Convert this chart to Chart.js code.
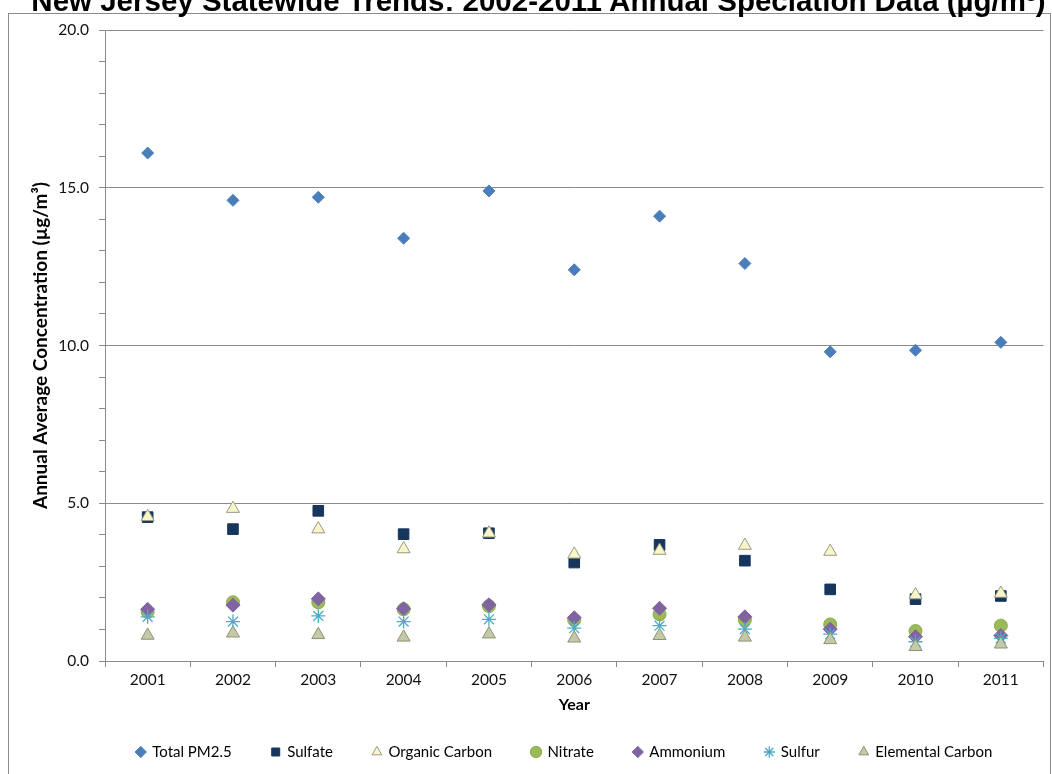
<!DOCTYPE html>
<html>
<head>
<meta charset="utf-8">
<script src="https://cdn.jsdelivr.net/npm/chart.js@4.4.1/dist/chart.umd.min.js"></script>
<style>
  html, body { margin: 0; padding: 0; background: #fff; overflow: hidden; }
  #wrap { position: relative; width: 1052px; height: 774px; }
  #frame { position: absolute; left: 8px; top: 13px; width: 1041px; height: 800px;
           border-left: 1px solid #8a8a8a; border-top: 1px solid #8a8a8a; border-right: 1px solid #8a8a8a; }
  #title { position: absolute; left: 0; width: 1077px; top: -16px; line-height: 34px; text-align: center;
           font-family: "Liberation Sans", Arial, sans-serif; font-weight: bold; font-size: 29.5px;
           color: #000; white-space: nowrap; }
  canvas { position: absolute; left: 0; top: 0; }
</style>
</head>
<body>
<div id="wrap">
  <div id="frame"></div>
  <canvas id="chart" width="1052" height="774"></canvas>
  <div id="title">New Jersey Statewide Trends: 2002-2011 Annual Speciation Data (µg/m³)</div>
</div>
<script>
const years = ['2001', '2002', '2003', '2004', '2005', '2006', '2007', '2008', '2009', '2010', '2011'];

const totalPM25 = [16.1, 14.6, 14.7, 13.4, 14.9, 12.4, 14.1, 12.6, 9.8, 9.85, 10.1];
const sulfate = [4.56, 4.18, 4.76, 4.02, 4.05, 3.12, 3.68, 3.18, 2.27, 1.96, 2.06];
const organicCarbon = [4.57, 4.83, 4.18, 3.55, 4.05, 3.38, 3.50, 3.66, 3.47, 2.09, 2.14];
const nitrate = [1.56, 1.86, 1.86, 1.64, 1.74, 1.30, 1.48, 1.30, 1.16, 0.95, 1.12];
const ammonium = [1.64, 1.77, 1.97, 1.66, 1.78, 1.37, 1.67, 1.40, 1.01, 0.77, 0.81];
const sulfur = [1.40, 1.25, 1.43, 1.25, 1.32, 1.04, 1.12, 1.01, 0.85, 0.61, 0.72];
const elementalCarbon = [0.81, 0.88, 0.83, 0.75, 0.85, 0.72, 0.80, 0.75, 0.67, 0.45, 0.53];

const yTicks = [0, 5, 10, 15, 20];

const seriesDefs = [
  { label: 'Total PM2.5', data: totalPM25, style: 'rectRot', r: 6, bg: '#4a7ebb', bd: '#4a7ebb' },
  { label: 'Sulfate', data: sulfate, style: 'rect', r: 7.5, bg: '#17365d', bd: '#17365d' },
  { label: 'Organic Carbon', data: organicCarbon, style: 'triangle', r: 7.5, bg: '#f8f6c8', bd: '#9a9a82' },
  { label: 'Nitrate', data: nitrate, style: 'circle', r: 6.5, bg: '#9bbb59', bd: '#8aaa4c' },
  { label: 'Ammonium', data: ammonium, style: 'rectRot', r: 7, bg: '#8064a2', bd: '#8064a2' },
  { label: 'Sulfur', data: sulfur, style: 'star', r: 7, bg: '#4bacc6', bd: '#4bacc6' },
  { label: 'Elemental Carbon', data: elementalCarbon, style: 'triangle', r: 7.5, bg: '#c4c9aa', bd: '#8d9273' }
];

// later series sit on top, like the original
const datasets = seriesDefs.map(function(s, i) {
  return {
    label: s.label,
    data: s.data,
    showLine: false,
    pointStyle: s.style,
    pointRadius: s.r,
    pointHoverRadius: s.r,
    pointBackgroundColor: s.bg,
    pointBorderColor: s.bd,
    backgroundColor: s.bg,
    borderColor: s.bd,
    pointBorderWidth: s.style === 'star' ? 1.3 : 1,
    order: seriesDefs.length - i
  };
});

// nudge the legend row a bit to the right
const legendShift = {
  id: 'legendShift',
  afterLayout: function(chart) {
    chart.legend.left += 30;
    chart.legend.right += 30;
  }
};

new Chart(document.getElementById('chart').getContext('2d'), {
  type: 'line',
  data: { labels: years, datasets: datasets },
  plugins: [legendShift],
  options: {
    responsive: false,
    animation: false,
    layout: { padding: { left: 20, right: 3, top: 30, bottom: 4.5 } },
    plugins: {
      title: { display: false },
      tooltip: { enabled: false },
      legend: {
        position: 'bottom',
        labels: {
          usePointStyle: true,
          boxHeight: 8,
          boxWidth: 8,
          padding: 40,
          color: '#000',
          font: { family: 'Lato', size: 15 },
          sort: function(a, b) { return a.datasetIndex - b.datasetIndex; }
        }
      }
    },
    scales: {
      x: {
        offset: true,
        grid: { offset: true, drawOnChartArea: false, tickColor: '#8a8a8a', tickLength: 6 },
        border: { color: '#8a8a8a' },
        ticks: { color: '#111', font: { family: 'Lato', size: 15.5 }, padding: 4 },
        title: { display: true, text: 'Year', color: '#000', font: { family: 'Lato', size: 16, weight: 'bold' },
                 padding: { top: 0, bottom: -10 } },
        afterFit: function(scale) { scale.height = 43.5; }
      },
      y: {
        min: 0,
        max: 20,
        afterBuildTicks: function(scale) {
          const t = [];
          for (let v = 0; v <= 20; v++) t.push({ value: v });
          scale.ticks = t;
        },
        grid: {
          color: function(ctx) { return yTicks.indexOf(ctx.tick.value) >= 0 ? '#8a8a8a' : 'rgba(0,0,0,0)'; },
          tickColor: '#8a8a8a',
          tickLength: 6
        },
        border: { color: '#8a8a8a' },
        ticks: {
          color: '#111',
          font: { family: 'Lato', size: 15.5 },
          padding: 10,
          callback: function(v) { return yTicks.indexOf(v) >= 0 ? v.toFixed(1) : ''; }
        },
        title: { display: true, text: 'Annual Average Concentration (µg/m³)', color: '#000',
                 font: { family: 'Lato', size: 19, weight: 'bold' }, padding: { top: 9, bottom: 0 } },
        afterFit: function(scale) { scale.width = 85; }
      }
    }
  }
});
</script>
</body>
</html>
